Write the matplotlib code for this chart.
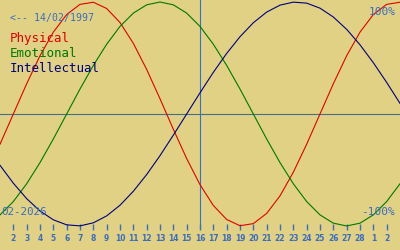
import matplotlib
matplotlib.use("Agg")
import matplotlib.pyplot as plt

# day index along the x axis (1 = 1 Feb 2026 ... 31 = 3 Mar 2026)
days = list(range(1, 32))

physical = [-0.270, 0.000, 0.270, 0.520, 0.731, 0.888, 0.979, 0.998, 0.942, 0.817,
            0.631, 0.398, 0.136, -0.136, -0.398, -0.631, -0.817, -0.942, -0.998, -0.979,
            -0.888, -0.731, -0.520, -0.270, 0.000, 0.270, 0.520, 0.731, 0.888, 0.979, 0.998]
emotional = [-0.901, -0.782, -0.623, -0.434, -0.223, 0.000, 0.223, 0.434, 0.623, 0.782,
             0.901, 0.975, 1.000, 0.975, 0.901, 0.782, 0.623, 0.434, 0.223, 0.000,
             -0.223, -0.434, -0.623, -0.782, -0.901, -0.975, -1.000, -0.975, -0.901, -0.782, -0.623]
intellectual = [-0.458, -0.618, -0.756, -0.866, -0.945, -0.990, -0.999, -0.972, -0.910, -0.815,
                -0.690, -0.541, -0.372, -0.189, 0.000, 0.189, 0.372, 0.541, 0.690, 0.815,
                0.910, 0.972, 0.999, 0.990, 0.945, 0.866, 0.756, 0.618, 0.458, 0.282, 0.095]

tick_positions = list(range(2, 31))
tick_labels = [str(d) for d in range(2, 29)] + ["1", "2"]
today = 16

series_names = ["Physical", "Emotional", "Intellectual"]
series_colors = ["#e00000", "#007800", "#000080"]

bg = "#e0d184"
txt = "#3b6cc0"

fig = plt.figure(figsize=(4, 2.5), dpi=100)
fig.patch.set_facecolor(bg)
ax = fig.add_axes([0, 20 / 250, 1, 230 / 250])
ax.set_facecolor(bg)
ax.set_xlim(1, 31)
ax.set_ylim(-1.036, 1.018)

ax.axhline(0, color="#44708f", lw=0.8)
ax.axvline(today, color="#3a6fc8", lw=0.8)

for vals, c in zip([physical, emotional, intellectual], series_colors):
    ax.plot(days, vals, color=c, lw=0.8)

for s in ax.spines.values():
    s.set_visible(False)
ax.set_yticks([])
ax.set_xticks(tick_positions)
ax.set_xticklabels(tick_labels)
ax.tick_params(axis="x", direction="in", length=4, width=1, color=txt,
               labelcolor=txt, labelsize=5.5, pad=3)
for lab in ax.get_xticklabels():
    lab.set_fontweight("bold")

mono = "DejaVu Sans Mono"
fig.text(10 / 400, 1 - 18 / 250, "<-- 14/02/1997", color=txt, family=mono,
         fontsize=7.1, va="center", ha="left")
for i, (name, c) in enumerate(zip(series_names, series_colors)):
    fig.text(10 / 400, 1 - (42 + 15 * i) / 250, name, color=c, family=mono,
             fontsize=9.0, va="baseline", ha="left")

fig.text(396 / 400, 1 - 12 / 250, "100%", color=txt, family=mono,
         fontsize=8, va="center", ha="right")
fig.text(395 / 400, 1 - 212 / 250, "-100%", color=txt, family=mono,
         fontsize=8, va="center", ha="right")
fig.text(1 / 400, 1 - 212 / 250, "02-2026", color=txt, family=mono,
         fontsize=7.8, va="center", ha="left")

fig.savefig("out.png", dpi=100, facecolor=bg)
